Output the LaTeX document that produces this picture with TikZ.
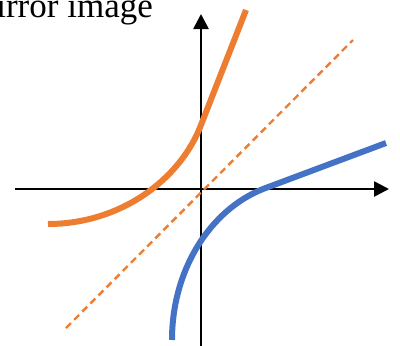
\documentclass[tikz,border=0pt]{standalone}
\usepackage{fontspec}
\setmainfont{Liberation Serif}
\usetikzlibrary{arrows.meta}
\definecolor{myorange}{HTML}{ED7D31}
\definecolor{myblue}{HTML}{4472C4}
\begin{document}
\begin{tikzpicture}[x=1pt,y=-1pt,
  axis/.style={line width=2.6pt,-{Triangle[length=15pt,width=15pt]}},
  curveo/.style={line width=6pt,myorange},
  curveb/.style={line width=6pt,myblue},
  mirrorline/.style={line width=2.4pt,myorange,dash pattern=on 7pt off 4.5pt}]
\useasboundingbox (0,0) rectangle (400,346);
\clip (0,0) rectangle (400,346);
\node[anchor=base east,inner sep=0pt,font=\fontsize{35}{40}\selectfont] (title) at (153,17) {mirror image};
\coordinate (xs) at (15,189);
\coordinate (xe) at (389,189);
\coordinate (ys) at (201,346);
\coordinate (ye) at (201,14);
\draw[axis] (xs) -- (xe);
\draw[axis] (ys) -- (ye);
\coordinate (ds) at (66,328);
\coordinate (de) at (353,40);
\draw[mirrorline] (ds) -- (de);
\coordinate (os) at (48,224);
\coordinate (om) at (201,125);
\coordinate (oe) at (246,10);
\draw[curveo] (os) .. controls (120,224) and (180,180) .. (om) -- (oe);
\coordinate (bs) at (172,340);
\coordinate (bm) at (263,189);
\coordinate (be) at (386,143);
\draw[curveb] (bs) .. controls (172,270) and (210,210) .. (bm) -- (be);
\end{tikzpicture}
\end{document}
